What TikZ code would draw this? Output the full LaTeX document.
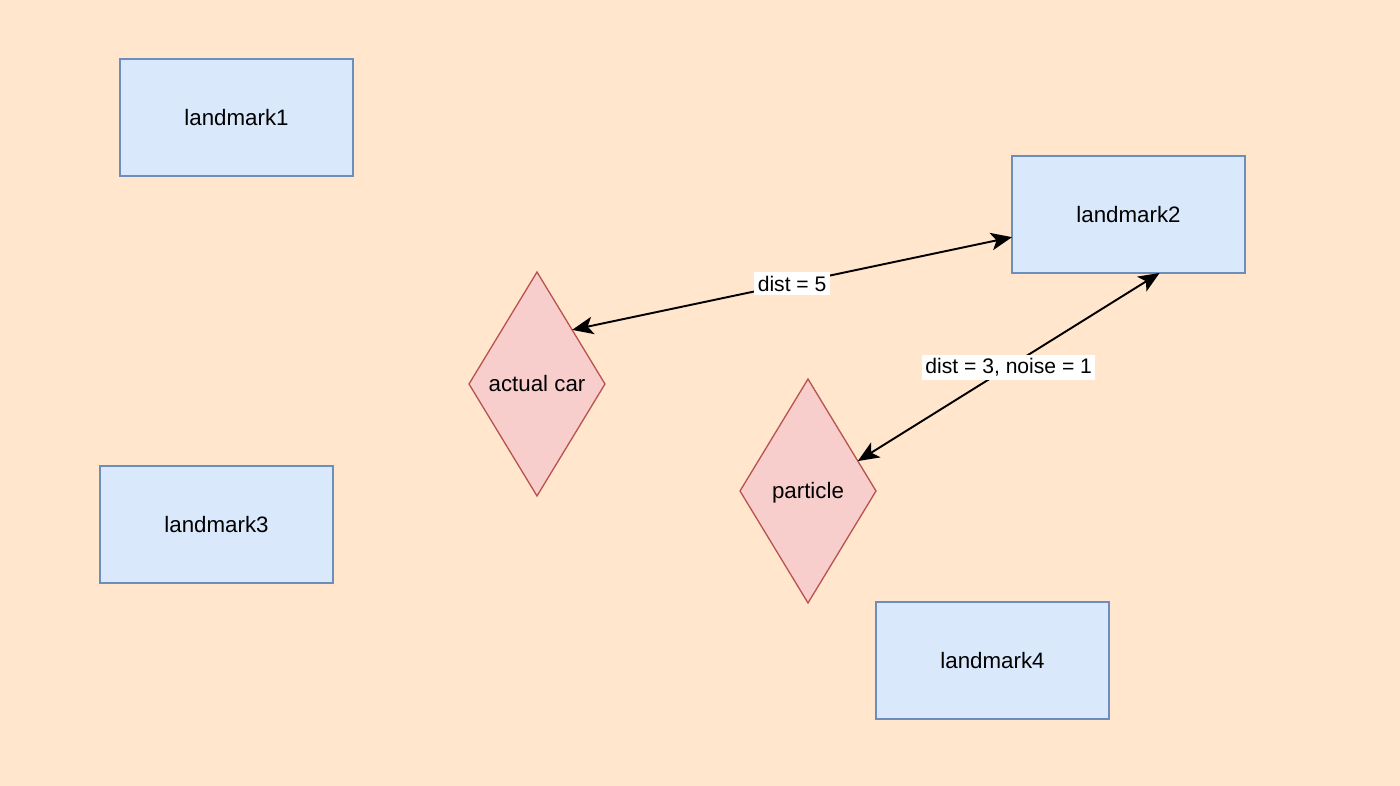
\documentclass[tikz,border=0pt]{standalone}
\usepackage{fontspec}
\setmainfont{Liberation Sans}
\usetikzlibrary{shapes.geometric,arrows.meta}
\definecolor{bgc}{HTML}{FFE6CC}
\definecolor{boxfill}{HTML}{DAE8FC}
\definecolor{boxline}{HTML}{6C8EBF}
\definecolor{dfill}{HTML}{F8CECC}
\definecolor{dline}{HTML}{B85450}
\tikzset{
  lmbox/.style={draw=boxline, fill=boxfill, line width=0.75pt, minimum width=4.66cm, minimum height=2.34cm, inner sep=0pt, outer sep=0pt, font=\fontsize{12.7}{14}\selectfont},
  dbox/.style={diamond, draw=dline, fill=dfill, line width=0.75pt, minimum width=2.72cm, minimum height=4.48cm, shape aspect=0.5, inner sep=0pt, outer sep=0pt, text height=2.0ex, text depth=0.3ex, font=\fontsize{12.7}{14}\selectfont},
  conn/.style={line width=1.1pt, {Stealth[length=12pt,width=10pt,inset=3pt]}-{Stealth[length=12pt,width=10pt,inset=3pt]}},
  elabel/.style={fill=white, inner sep=2pt, font=\fontsize{12}{14}\selectfont}
}
\begin{document}
\begin{tikzpicture}[x=0.02cm, y=-0.02cm]
\fill[bgc] (0,0) rectangle (1400,786);
\useasboundingbox (0,0) rectangle (1400,786);
\node[lmbox] (l1) at (236.5,117.5) {landmark1};
\node[lmbox] (l2) at (1128.5,214.5) {landmark2};
\node[lmbox] (l3) at (216.5,524.5) {landmark3};
\node[lmbox] (l4) at (992.5,660.5) {landmark4};
\node[dbox] (car) at (537,384) {actual car};
\node[dbox] (par) at (808,491) {particle};
\draw[conn] (car.57.5) -- node[elabel] {dist = 5} (l2.191.9);
\draw[conn] (par.31.8) -- node[elabel] {dist = 3, noise = 1} (l2.-62.8);
\end{tikzpicture}
\end{document}
